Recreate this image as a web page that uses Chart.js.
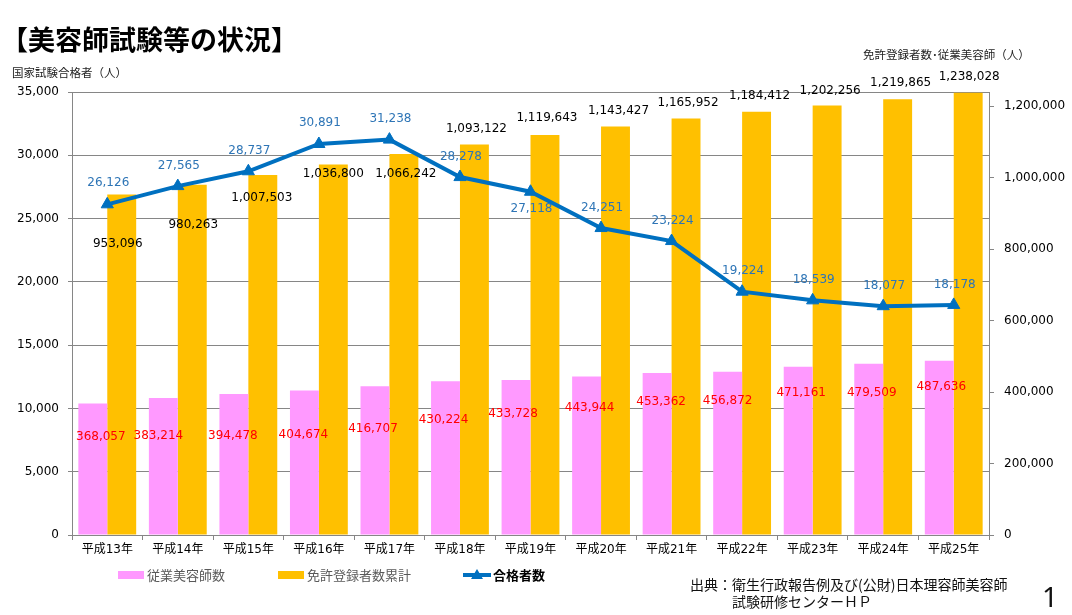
<!DOCTYPE html>
<html><head><meta charset="utf-8">
<script src="https://cdn.jsdelivr.net/npm/chart.js@4"></script>
<style>
html,body{margin:0;padding:0;background:#fff;width:1072px;height:615px;overflow:hidden;font-family:"Noto Sans CJK JP","DejaVu Sans",sans-serif}
#wrap{position:relative;width:1072px;height:615px}
canvas{position:absolute;left:0;top:0}
.t{position:absolute;white-space:nowrap;color:#000}
#title{left:1px;top:21px;font-size:27px;font-weight:bold;line-height:36px}
#ltitle{left:12px;top:64px;font-size:11.5px;line-height:16px;color:#222}
#rtitle{left:863px;top:46px;font-size:11.5px;line-height:16px;color:#222}
#src{left:690px;top:576px;font-size:14px;line-height:17px;color:#111}
#page{left:1042px;top:578px;font-size:28px;line-height:36px;font-family:"Noto Sans",sans-serif;color:#111}
</style></head>
<body><div id="wrap">
<canvas id="c" width="1072" height="615"></canvas>
<div class="t" id="title">【美容師試験等の状況】</div>
<div class="t" id="ltitle">国家試験合格者（人）</div>
<div class="t" id="rtitle">免許登録者数･従業美容師（人）</div>
<div class="t" id="src">出典：衛生行政報告例及び(公財)日本理容師美容師<br><span style="padding-left:42px">試験研修センターＨＰ</span></div>
<div class="t" id="page">1</div>
</div>
<script>
// ---- data ----
const categories = ['平成13年','平成14年','平成15年','平成16年','平成17年','平成18年','平成19年','平成20年','平成21年','平成22年','平成23年','平成24年','平成25年'];
const employedBeauticians = [368057,383214,394478,404674,416707,430224,433728,443944,453362,456872,471161,479509,487636];
const licenseTotal = [953096,980263,1007503,1036800,1066242,1093122,1119643,1143427,1165952,1184412,1202256,1219865,1238028];
const examPassed = [26126,27565,28737,30891,31238,28278,27118,24251,23224,19224,18539,18077,18178];
const leftAxisTicks = {min:0, max:35000, step:5000};
const rightAxisRange = {min:0, max:1240000};
const rightTickValues = [0,200000,400000,600000,800000,1000000,1200000];
const seriesNames = ['従業美容師数','免許登録者数累計','合格者数'];

// ---- label placement (styles) ----
const labelStyle = {
  passed:   {color:'#2E75B6', dx:[1,1,1,1,1,1,1,1,1,1,1,1,1], dy:[-21,-20,-20,-21,-21,-20,17,-20,-20,-21,-20,-20,-20]},
  license:  {color:'#000000', dx:[-4,1,-1,0,2,2,2,3,2,3,3,3,1], dy:[49,40,23,9,20,-16,-17,-16,-16,-16,-15,-16,-16]},
  employed: {color:'#FF0000', dx:[8,-5,-1,-1,-2,-2,-3,3,4,0,3,3,2], dy:[33,38,42,44,43,39,34,31,29,29,26,29,26]}
};
const fmt = v => v.toLocaleString('en-US');
const FONT = '"DejaVu Sans","Noto Sans CJK JP",sans-serif';

const valueLabels = {
  id:'valueLabels',
  afterDatasetsDraw(chart){
    const ctx = chart.ctx;
    ctx.save();
    ctx.font = '12px ' + FONT;
    ctx.textAlign = 'center'; ctx.textBaseline = 'middle';
    chart.data.datasets.forEach((ds, di) => {
      const st = labelStyle[ds.key];
      const meta = chart.getDatasetMeta(di);
      ctx.fillStyle = st.color;
      meta.data.forEach((el, i) => {
        ctx.fillText(fmt(ds.data[i]), el.x + st.dx[i], el.y + st.dy[i]);
      });
    });
    ctx.restore();
  }
};

const customLegend = {
  id:'customLegend',
  afterDraw(chart){
    const ctx = chart.ctx;
    const ds = chart.data.datasets;
    const y = 575;
    ctx.save();
    ctx.textBaseline = 'middle'; ctx.textAlign = 'left';
    ctx.fillStyle = ds[1].backgroundColor; ctx.fillRect(118, y-4, 26, 8);
    ctx.fillStyle = '#595959'; ctx.font = '13px "Noto Sans CJK JP"';
    ctx.fillText(ds[1].label, 147, y);
    ctx.fillStyle = ds[2].backgroundColor; ctx.fillRect(278, y-4, 26, 8);
    ctx.fillStyle = '#595959';
    ctx.fillText(ds[2].label, 307, y);
    ctx.strokeStyle = ds[0].borderColor; ctx.lineWidth = 4;
    ctx.beginPath(); ctx.moveTo(463, y); ctx.lineTo(491, y); ctx.stroke();
    ctx.fillStyle = ds[0].borderColor;
    ctx.beginPath(); ctx.moveTo(477, y-6); ctx.lineTo(483, y+4); ctx.lineTo(471, y+4); ctx.closePath(); ctx.fill();
    ctx.fillStyle = '#000'; ctx.font = 'bold 13px "Noto Sans CJK JP"';
    ctx.fillText(ds[0].label, 493, y);
    ctx.restore();
  }
};

new Chart(document.getElementById('c'), {
  data:{
    labels: categories,
    datasets:[
      {type:'line', key:'passed', label:seriesNames[2], data:examPassed, yAxisID:'y', order:0,
       borderColor:'#0070C0', backgroundColor:'#0070C0', borderWidth:4, tension:0,
       pointStyle:'triangle', pointRadius:7, pointHoverRadius:7, pointBackgroundColor:'#0070C0', pointBorderColor:'#0070C0', pointBorderWidth:1},
      {type:'bar', key:'employed', label:seriesNames[0], data:employedBeauticians, yAxisID:'y1', order:1,
       backgroundColor:'#FF99FF', categoryPercentage:0.82, barPercentage:1.0},
      {type:'bar', key:'license', label:seriesNames[1], data:licenseTotal, yAxisID:'y1', order:1,
       backgroundColor:'#FFC000', categoryPercentage:0.82, barPercentage:1.0}
    ]
  },
  options:{
    responsive:false, animation:false, devicePixelRatio:1,
    layout:{padding:{top:92, bottom:50, left:0, right:0}},
    plugins:{legend:{display:false}, tooltip:{enabled:false}},
    scales:{
      x:{
        offset:true,
        grid:{display:true, drawOnChartArea:false, drawTicks:true, tickLength:5, color:'#868686', offset:true},
        border:{color:'#868686', width:1},
        ticks:{color:'#000', font:{family:FONT, size:12}, padding:3, maxRotation:0, autoSkip:false},
        afterFit(s){ s.height = 30; }
      },
      y:{
        position:'left', min:leftAxisTicks.min, max:leftAxisTicks.max,
        grid:{color:'#868686', tickLength:4},
        border:{color:'#868686', width:1},
        ticks:{stepSize:leftAxisTicks.step, color:'#000', font:{family:FONT, size:12}, padding:9, callback:v=>fmt(v)},
        afterFit(s){ s.width = 72; }
      },
      y1:{
        position:'right', min:rightAxisRange.min, max:rightAxisRange.max,
        grid:{drawOnChartArea:false, color:'#868686', tickLength:5},
        border:{color:'#868686', width:1},
        ticks:{color:'#000', font:{family:FONT, size:12}, padding:10, callback:v=>fmt(v)},
        afterBuildTicks(s){ s.ticks = rightTickValues.map(v => ({value:v})); },
        afterFit(s){ s.width = 83; }
      }
    }
  },
  plugins:[valueLabels, customLegend]
});
</script>
</body></html>
